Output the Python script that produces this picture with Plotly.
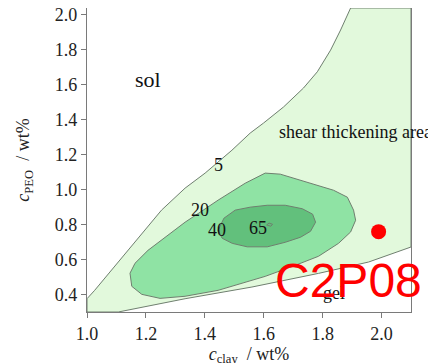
import plotly.graph_objects as go

# Contour boundaries (c_clay, c_PEO)
lvl5_x = [1.0, 1.0, 1.026, 1.083, 1.139, 1.197, 1.253, 1.333, 1.401, 1.492, 1.554, 1.599, 1.667,
          1.735, 1.782, 1.827, 1.861, 1.895, 2.1, 2.1, 1.956, 1.786, 1.560, 1.333, 1.106]
lvl5_y = [0.30, 0.376, 0.424, 0.539, 0.653, 0.768, 0.883, 1.009, 1.095, 1.226, 1.324, 1.381, 1.473,
          1.582, 1.675, 1.799, 1.914, 2.04, 2.04, 0.672, 0.586, 0.521, 0.443, 0.376, 0.30]

lvl20_x = [1.146, 1.163, 1.207, 1.265, 1.333, 1.384, 1.445, 1.537, 1.605, 1.656, 1.748, 1.837, 1.884,
           1.905, 1.912, 1.895, 1.854, 1.786, 1.707, 1.605, 1.445, 1.333, 1.248, 1.186, 1.152]
lvl20_y = [0.522, 0.579, 0.653, 0.728, 0.814, 0.871, 0.940, 1.037, 1.095, 1.089, 1.043, 0.997, 0.957,
           0.883, 0.825, 0.758, 0.693, 0.619, 0.567, 0.504, 0.424, 0.390, 0.378, 0.401, 0.447]

lvl40_x = [1.445, 1.465, 1.503, 1.554, 1.612, 1.673, 1.731, 1.766, 1.776, 1.759, 1.725, 1.673,
           1.612, 1.544, 1.493, 1.459]
lvl40_y = [0.768, 0.837, 0.883, 0.900, 0.911, 0.911, 0.891, 0.860, 0.814, 0.762, 0.728, 0.699,
           0.673, 0.673, 0.693, 0.722]

lvl65_x = [1.610, 1.618, 1.630, 1.624]
lvl65_y = [0.798, 0.809, 0.802, 0.791]

levels = ["5", "20", "40", "65"]
label_x = [1.445, 1.384, 1.441, 1.581]
label_y = [1.140, 0.883, 0.768, 0.779]

region_names = ["sol", "shear thickening area", "gel"]
region_x = [1.207, 1.912, 1.837]
region_y = [1.628, 1.330, 0.407]

sample_name = "C2P08"
sample_x = [1.99]
sample_y = [0.76]
sample_label_x = 1.888
sample_label_y = 0.481

x_ticks = [1.0, 1.2, 1.4, 1.6, 1.8, 2.0]
y_ticks = [0.4, 0.6, 0.8, 1.0, 1.2, 1.4, 1.6, 1.8, 2.0]

SERIF = "Liberation Serif, Times New Roman, serif"
LINE = "#7a7a7a"

fig = go.Figure()
fills = ["#e2f9dc", "#8fe3a4", "#62c07c", "#62c07c"]
for (xs, ys), col in zip([(lvl5_x, lvl5_y), (lvl20_x, lvl20_y), (lvl40_x, lvl40_y), (lvl65_x, lvl65_y)], fills):
    fig.add_trace(go.Scatter(x=xs + [xs[0]], y=ys + [ys[0]], mode="lines", fill="toself",
                             fillcolor=col, line=dict(color="#6f7f6f", width=1),
                             hoverinfo="skip", showlegend=False))

fig.add_trace(go.Scatter(x=sample_x, y=sample_y, mode="markers",
                         marker=dict(color="#ff0000", size=15), showlegend=False))

for t, x, y in zip(levels, label_x, label_y):
    fig.add_annotation(x=x, y=y, text=t, showarrow=False,
                       font=dict(family=SERIF, size=18, color="#111"))
for t, x, y, s in zip(region_names, region_x, region_y, [22, 18, 18]):
    fig.add_annotation(x=x, y=y, text=t, showarrow=False,
                       font=dict(family=SERIF, size=s, color="#111"))
fig.add_annotation(x=sample_label_x, y=sample_label_y, text=sample_name, showarrow=False,
                   font=dict(family="Liberation Sans, Arial, sans-serif", size=48, color="#ff0000"))

# the page body adds an 8px offset; margins compensate so the plot sits where the reference does
fig.update_layout(
    width=436, height=363,
    margin=dict(l=79, r=33, t=0, b=59),
    plot_bgcolor="white", paper_bgcolor="white",
    font=dict(family=SERIF, size=18, color="#222"),
    xaxis=dict(range=[1.0, 2.1], tickvals=x_ticks, ticktext=[f"{v:.1f}" for v in x_ticks],
               showgrid=False, zeroline=False, showline=True, linecolor=LINE, linewidth=1.2,
               mirror=True, ticks="outside", ticklen=5, tickcolor=LINE,
               ticklabeloverflow="allow",
               title=dict(text="<i>c</i><sub>clay</sub>  / wt%", standoff=1,
                          font=dict(family=SERIF, size=18)),
               automargin=False),
    yaxis=dict(range=[0.3, 2.04], tickvals=y_ticks, ticktext=[f"{v:.1f}" for v in y_ticks],
               showgrid=False, zeroline=False, showline=True, linecolor=LINE, linewidth=1.2,
               mirror=True, ticks="outside", ticklen=5, tickcolor=LINE,
               ticklabeloverflow="allow",
               title=dict(text="<i>c</i><sub>PEO</sub>  / wt%", standoff=20,
                          font=dict(family=SERIF, size=18)),
               automargin=False),
)

fig.write_html("out.html")
